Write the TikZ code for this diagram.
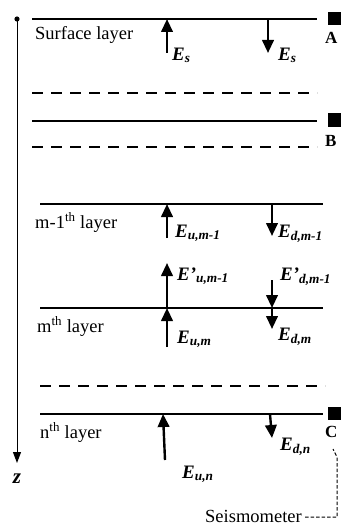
\documentclass[tikz,border=0pt]{standalone}
\usepackage{fontspec}
\setmainfont{Liberation Serif}
\usetikzlibrary{arrows.meta}

\tikzset{
  layerline/.style={line width=2.6pt},
  interface/.style={line width=2.6pt, dash pattern=on 11pt off 8pt},
  wave/.style={line width=2.4pt, -{Triangle[length=13pt,width=11.5pt]}},
  layername/.style={anchor=base west, inner sep=0pt, font=\fontsize{18.5}{20}\selectfont},
  energy/.style={anchor=base west, inner sep=0pt, font=\fontsize{19}{20}\selectfont\bfseries\itshape},
  site/.style={anchor=base west, inner sep=0pt, font=\fontsize{17}{19}\selectfont\bfseries},
}

\begin{document}
\begin{tikzpicture}[x=1pt,y=-1pt]
    \useasboundingbox (0,0) rectangle (340,527);

    % Depth axis
    \coordinate (ztop) at (17,19);
    \coordinate (zbot) at (17,463);
    \fill (ztop) circle (2.6pt);
    \draw[line width=1pt,-{Triangle[length=11pt,width=8pt]}] (ztop) -- (zbot);
    \node[anchor=base, inner sep=0pt, font=\fontsize{21}{22}\selectfont\bfseries\itshape] (zlab) at (17,483) {z};

    % Layer boundaries
    \draw[layerline] (32,19) -- (317,19);
    \draw[interface] (32,93) -- (317,93);
    \draw[layerline] (32,121) -- (317,121);
    \draw[interface] (32,147) -- (317,147);
    \draw[layerline] (40,204) -- (323,204);
    \draw[layerline] (40,308) -- (323,308);
    \draw[interface] (40,386) -- (325,386);
    \draw[layerline] (40,414) -- (323,414);

    % Observation points
    \fill (328,12) rectangle (346,25);
    \node[site] (A) at (325,44) {A};
    \fill (328,113) rectangle (346,127);
    \node[site] (B) at (325,146) {B};
    \fill (328,407) rectangle (346,420);
    \node[site] (C) at (325,437) {C};

    % Layer names
    \node[layername] (surf) at (35,40) {Surface layer};
    \node[layername] (mprev) at (35,228) {m-1\textsuperscript{th} layer};
    \node[layername] (mcur) at (37,332) {m\textsuperscript{th} layer};
    \node[layername] (nlast) at (40,438) {n\textsuperscript{th} layer};

    % Surface layer
    \draw[wave] (167,53) -- (167,19);
    \node[energy] (Esup) at (172,60) {E\textsubscript{s}};
    \draw[wave] (268,19) -- (268,53);
    \node[energy] (Esdown) at (278,60) {E\textsubscript{s}};

    % m-1 layer
    \draw[wave] (167,238) -- (167,204);
    \node[energy] (Eumprev) at (175,237) {E\textsubscript{u,m-1}};
    \draw[wave] (272,204) -- (272,236);
    \node[energy] (Edmprev) at (278,237) {E\textsubscript{d,m-1}};

    % m layer
    \draw[wave] (167,308) -- (167,263);
    \node[energy] (Eupr) at (177,280) {E’\textsubscript{u,m-1}};
    \draw[wave] (272,280) -- (272,308);
    \node[energy] (Edpr) at (280,280) {E’\textsubscript{d,m-1}};
    \draw[wave] (167,347) -- (167,308);
    \node[energy] (Eum) at (177,343) {E\textsubscript{u,m}};
    \draw[wave] (272,308) -- (272,329);
    \node[energy] (Edm) at (278,340) {E\textsubscript{d,m}};

    % n layer
    \draw[wave] (165,460) -- (163,414);
    \node[energy] (Eun) at (182,478) {E\textsubscript{u,n}};
    \draw[wave] (270,414) -- (272,438);
    \node[energy] (Edn) at (280,450) {E\textsubscript{d,n}};

    % Seismometer
    \node[layername, anchor=base east] (seis) at (302,522) {Seismometer};
    \coordinate (bend) at (337,517);
    \coordinate (foot) at (337,457);
    \draw[line width=1pt, dash pattern=on 3.5pt off 2pt] (seis.east |- bend) ++(3,0) -- (bend) -- (foot) -- (333,449);
\end{tikzpicture}
\end{document}
